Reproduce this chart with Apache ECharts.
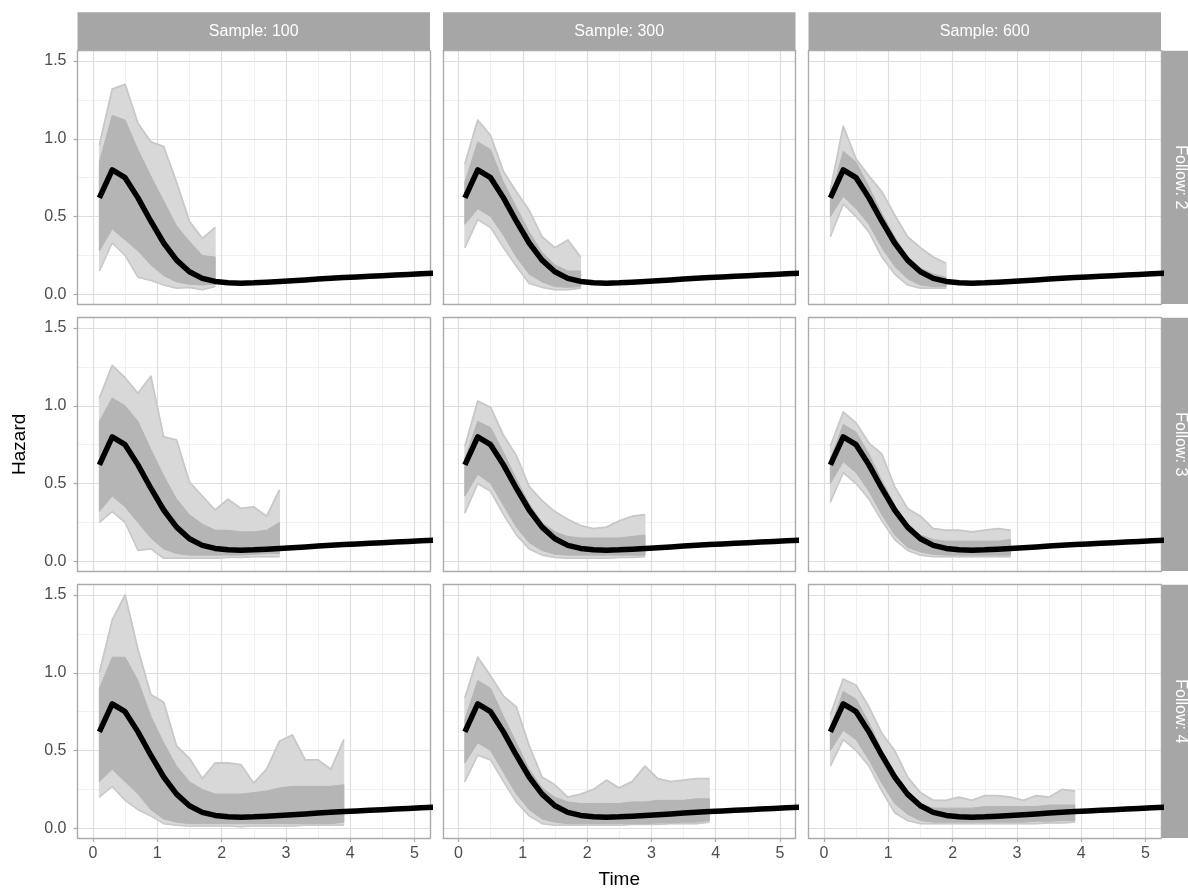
<!DOCTYPE html>
<html><head><meta charset="utf-8">
<script src="https://cdn.jsdelivr.net/npm/echarts@6/dist/echarts.min.js"></script>
<style>html,body{margin:0;padding:0;background:#fff}#c{width:1188px;height:892px}</style>
</head><body><div id="c"></div>
<script>
// ---------- data ----------
const sampleLabels = ['Sample: 100', 'Sample: 300', 'Sample: 600'];
const followLabels = ['Follow: 2', 'Follow: 3', 'Follow: 4'];
const xTicks = [0, 1, 2, 3, 4, 5];
const xMinor = [0.5, 1.5, 2.5, 3.5, 4.5];
const yTicks = [0, 0.5, 1, 1.5];
const yMinor = [0.25, 0.75, 1.25];
const yTickLabels = ['0.0', '0.5', '1.0', '1.5'];

// estimation time points
const timePts = [0.1,0.3,0.5,0.7,0.9,1.1,1.3,1.5,1.7,1.9,2.1,2.3,2.5,2.7,2.9,3.1,3.3,3.5,3.7,3.9];

// true hazard (black curve)
const trueTime = [0.1,0.3,0.5,0.7,0.9,1.1,1.3,1.5,1.7,1.9,2.1,2.3,2.5,2.7,2.9,3.1,3.3,3.5,3.7,3.9,4.1,4.3,4.5,4.7,4.9,5.1,5.3];
const trueHazard = [0.62,0.80,0.75,0.62,0.47,0.33,0.22,0.145,0.103,0.083,0.074,0.072,0.074,0.078,0.083,0.088,0.093,0.098,0.103,0.108,0.112,0.116,0.120,0.124,0.128,0.132,0.136];

// estimated hazard envelopes per panel: max, dense-core upper, dense-core lower, min
const f2_n100_max    = [0.96,1.32,1.35,1.10,0.98,0.95,0.72,0.47,0.36,0.43];
const f2_n100_coreHi = [0.85,1.15,1.12,0.93,0.76,0.60,0.44,0.34,0.25,0.24];
const f2_n100_coreLo = [0.28,0.42,0.35,0.28,0.19,0.12,0.08,0.065,0.06,0.065];
const f2_n100_min    = [0.15,0.33,0.25,0.11,0.09,0.06,0.04,0.045,0.03,0.05];

const f2_n300_max    = [0.84,1.12,1.02,0.79,0.66,0.54,0.37,0.30,0.35,0.24];
const f2_n300_coreHi = [0.72,0.98,0.93,0.72,0.56,0.40,0.27,0.19,0.15,0.15];
const f2_n300_coreLo = [0.45,0.55,0.50,0.38,0.24,0.13,0.08,0.05,0.045,0.05];
const f2_n300_min    = [0.30,0.48,0.43,0.30,0.18,0.07,0.045,0.03,0.03,0.04];

const f2_n600_max    = [0.67,1.08,0.87,0.76,0.66,0.51,0.37,0.30,0.24,0.20];
const f2_n600_coreHi = [0.62,0.92,0.85,0.69,0.52,0.37,0.24,0.17,0.13,0.11];
const f2_n600_coreLo = [0.50,0.63,0.55,0.45,0.30,0.18,0.10,0.06,0.05,0.05];
const f2_n600_min    = [0.37,0.58,0.50,0.40,0.24,0.13,0.06,0.04,0.04,0.04];

const f3_n100_max    = [1.05,1.26,1.18,1.08,1.19,0.80,0.78,0.51,0.42,0.33,0.40,0.34,0.35,0.29,0.46];
const f3_n100_coreHi = [0.90,1.05,1.00,0.90,0.72,0.55,0.40,0.30,0.24,0.20,0.20,0.19,0.19,0.20,0.25];
const f3_n100_coreLo = [0.32,0.42,0.35,0.25,0.15,0.08,0.05,0.04,0.04,0.04,0.04,0.04,0.045,0.05,0.05];
const f3_n100_min    = [0.25,0.32,0.25,0.07,0.08,0.02,0.02,0.02,0.02,0.02,0.025,0.025,0.03,0.03,0.03];

const f3_n300_max    = [0.74,1.03,0.99,0.81,0.68,0.48,0.39,0.32,0.27,0.23,0.21,0.22,0.26,0.29,0.30];
const f3_n300_coreHi = [0.66,0.90,0.86,0.70,0.53,0.37,0.25,0.19,0.16,0.15,0.15,0.15,0.15,0.16,0.17];
const f3_n300_coreLo = [0.42,0.56,0.50,0.36,0.22,0.12,0.07,0.045,0.04,0.04,0.04,0.04,0.04,0.04,0.04];
const f3_n300_min    = [0.31,0.50,0.45,0.30,0.17,0.08,0.04,0.025,0.02,0.02,0.02,0.02,0.025,0.025,0.03];

const f3_n600_max    = [0.74,0.96,0.89,0.76,0.69,0.48,0.34,0.29,0.21,0.20,0.20,0.19,0.20,0.21,0.20];
const f3_n600_coreHi = [0.66,0.88,0.83,0.69,0.52,0.36,0.24,0.17,0.14,0.13,0.13,0.13,0.13,0.13,0.14];
const f3_n600_coreLo = [0.50,0.64,0.57,0.45,0.30,0.17,0.09,0.06,0.045,0.04,0.04,0.04,0.04,0.04,0.04];
const f3_n600_min    = [0.38,0.57,0.50,0.40,0.26,0.14,0.07,0.04,0.03,0.03,0.03,0.03,0.03,0.03,0.03];

const f4_n100_max    = [1.00,1.34,1.50,1.15,0.86,0.81,0.53,0.45,0.32,0.42,0.42,0.41,0.29,0.38,0.56,0.60,0.44,0.44,0.38,0.57];
const f4_n100_coreHi = [0.90,1.10,1.10,0.95,0.72,0.55,0.40,0.30,0.25,0.22,0.22,0.22,0.23,0.24,0.26,0.27,0.27,0.27,0.27,0.28];
const f4_n100_coreLo = [0.30,0.38,0.30,0.22,0.12,0.06,0.04,0.03,0.03,0.03,0.03,0.03,0.03,0.03,0.03,0.03,0.03,0.03,0.03,0.04];
const f4_n100_min    = [0.20,0.27,0.18,0.12,0.08,0.03,0.02,0.015,0.015,0.015,0.015,0.01,0.015,0.015,0.015,0.015,0.02,0.02,0.02,0.02];

const f4_n300_max    = [0.84,1.10,0.98,0.85,0.78,0.53,0.33,0.28,0.20,0.22,0.25,0.31,0.26,0.30,0.40,0.32,0.30,0.31,0.32,0.32];
const f4_n300_coreHi = [0.70,0.95,0.90,0.72,0.55,0.38,0.26,0.20,0.17,0.16,0.16,0.16,0.16,0.17,0.17,0.18,0.18,0.18,0.19,0.19];
const f4_n300_coreLo = [0.42,0.55,0.50,0.36,0.22,0.12,0.06,0.04,0.03,0.03,0.03,0.03,0.03,0.03,0.03,0.035,0.035,0.04,0.04,0.05];
const f4_n300_min    = [0.30,0.47,0.44,0.30,0.17,0.08,0.03,0.02,0.02,0.02,0.02,0.02,0.02,0.025,0.025,0.025,0.03,0.03,0.03,0.04];

const f4_n600_max    = [0.73,0.96,0.92,0.78,0.61,0.50,0.33,0.23,0.18,0.18,0.20,0.18,0.21,0.21,0.20,0.18,0.21,0.20,0.25,0.24];
const f4_n600_coreHi = [0.65,0.88,0.83,0.68,0.50,0.35,0.23,0.16,0.13,0.13,0.13,0.13,0.14,0.14,0.14,0.14,0.14,0.15,0.15,0.15];
const f4_n600_coreLo = [0.50,0.63,0.57,0.44,0.29,0.16,0.09,0.05,0.04,0.04,0.04,0.04,0.04,0.04,0.04,0.04,0.045,0.045,0.05,0.05];
const f4_n600_min    = [0.40,0.57,0.50,0.40,0.24,0.10,0.05,0.03,0.03,0.03,0.03,0.03,0.03,0.03,0.03,0.03,0.03,0.035,0.035,0.04];

// ---------- layout ----------
const FONT = '"Liberation Sans", Arial, Helvetica, sans-serif';
const X_MIN = -0.24, X_MAX = 5.24, Y_MIN = -0.062, Y_MAX = 1.566;
const colLeft = [77.5, 443, 808.5], rowTop = [50.7, 317.7, 584.7];
const PW = 352.5, PH = 253.3;
const STRIP = 38.5;

const panelData = [
  [[f2_n100_max,f2_n100_coreHi,f2_n100_coreLo,f2_n100_min],[f2_n300_max,f2_n300_coreHi,f2_n300_coreLo,f2_n300_min],[f2_n600_max,f2_n600_coreHi,f2_n600_coreLo,f2_n600_min]],
  [[f3_n100_max,f3_n100_coreHi,f3_n100_coreLo,f3_n100_min],[f3_n300_max,f3_n300_coreHi,f3_n300_coreLo,f3_n300_min],[f3_n600_max,f3_n600_coreHi,f3_n600_coreLo,f3_n600_min]],
  [[f4_n100_max,f4_n100_coreHi,f4_n100_coreLo,f4_n100_min],[f4_n300_max,f4_n300_coreHi,f4_n300_coreLo,f4_n300_min],[f4_n600_max,f4_n600_coreHi,f4_n600_coreLo,f4_n600_min]]
];

const grids = [], xAxes = [], yAxes = [], series = [], graphics = [];
const borderLine = {show: true, onZero: false, lineStyle: {color: '#ababab', width: 1.4}};
const tickStyle = {color: '#ababab', width: 1.2};
const majorGrid = {show: true, lineStyle: {color: '#dedede', width: 1.2}};
const minorGrid = {show: true, lineStyle: {color: '#ececec', width: 0.8}};

// filled band between two envelopes, positioned through the axis scales (api.coord)
function bandSeries(g, t, lower, upper, fill, z) {
  return {
    type: 'custom', xAxisIndex: 2 * g, yAxisIndex: 2 * g, silent: true, clip: true, z: z,
    data: t.map((x, i) => [x, lower[i], upper[i]]),
    encode: {x: 0, y: [1, 2]},
    renderItem: function (params, api) {
      if (params.dataIndex !== 0) return null;
      const pts = [];
      for (let i = 0; i < t.length; i++) pts.push(api.coord([t[i], upper[i]]));
      for (let i = t.length - 1; i >= 0; i--) pts.push(api.coord([t[i], lower[i]]));
      return {type: 'polygon', shape: {points: pts}, style: {fill: fill, stroke: fill, lineWidth: 1}};
    }
  };
}

for (let r = 0; r < 3; r++) {
  for (let c = 0; c < 3; c++) {
    const g = r * 3 + c;
    grids.push({left: colLeft[c], top: rowTop[r], width: PW, height: PH, show: false});
    xAxes.push({type: 'value', gridIndex: g, position: 'bottom', min: X_MIN, max: X_MAX,
      axisLine: borderLine,
      axisTick: {show: r === 2, customValues: xTicks, length: 4, lineStyle: tickStyle},
      axisLabel: {show: r === 2, customValues: xTicks, color: '#4d4d4d', fontSize: 16, fontFamily: FONT, margin: 8},
      splitLine: majorGrid});
    xAxes.push({type: 'value', gridIndex: g, position: 'top', min: X_MIN, max: X_MAX,
      axisLine: borderLine,
      axisTick: {show: false, customValues: xMinor},
      axisLabel: {show: false, customValues: xMinor},
      splitLine: minorGrid});
    yAxes.push({type: 'value', gridIndex: g, position: 'left', min: Y_MIN, max: Y_MAX,
      axisLine: borderLine,
      axisTick: {show: c === 0, customValues: yTicks, length: 4, lineStyle: tickStyle},
      axisLabel: {show: c === 0, customValues: yTicks, color: '#4d4d4d', fontSize: 16, fontFamily: FONT, margin: 11,
        formatter: v => yTickLabels[yTicks.indexOf(+v.toFixed(2))] ?? v.toFixed(1)},
      splitLine: majorGrid});
    yAxes.push({type: 'value', gridIndex: g, position: 'right', min: Y_MIN, max: Y_MAX,
      axisLine: borderLine,
      axisTick: {show: false, customValues: yMinor},
      axisLabel: {show: false, customValues: yMinor},
      splitLine: minorGrid});

    const [mx, hi, lo, mn] = panelData[r][c];
    const t = timePts.slice(0, mx.length);
    const base = {type: 'line', xAxisIndex: 2 * g, yAxisIndex: 2 * g, symbol: 'none', silent: true,
      clip: true, animation: false};
    series.push(bandSeries(g, t, mn, mx, '#d8d8d8', 2));
    series.push(Object.assign({}, base, {z: 3,
      data: t.map((x, i) => [x, mx[i]]),
      lineStyle: {color: '#c8c8c8', width: 1.8, join: 'round'}}));
    series.push(Object.assign({}, base, {z: 3,
      data: t.map((x, i) => [x, mn[i]]),
      lineStyle: {color: '#c8c8c8', width: 1.6, join: 'round'}}));
    series.push(bandSeries(g, t, lo, hi, '#b5b5b5', 4));
    series.push(Object.assign({}, base, {z: 6,
      data: trueTime.map((x, i) => [x, trueHazard[i]]),
      lineStyle: {color: '#000000', width: 5.5, join: 'round', cap: 'butt'}}));
  }
}

// strips
for (let c = 0; c < 3; c++) {
  graphics.push({type: 'rect', shape: {x: colLeft[c], y: rowTop[0] - STRIP, width: PW, height: STRIP},
    style: {fill: '#a6a6a6'}, silent: true});
  graphics.push({type: 'text', x: colLeft[c] + PW / 2, y: rowTop[0] - STRIP / 2,
    style: {text: sampleLabels[c], fill: '#ffffff', font: '16px ' + FONT, align: 'center', verticalAlign: 'middle'}, silent: true});
}
const stripX = colLeft[2] + PW + 0.5;
for (let r = 0; r < 3; r++) {
  graphics.push({type: 'rect', shape: {x: stripX, y: rowTop[r], width: STRIP, height: PH},
    style: {fill: '#a6a6a6'}, silent: true});
  graphics.push({type: 'text', x: stripX + STRIP / 2, y: rowTop[r] + PH / 2, rotation: -Math.PI / 2,
    style: {text: followLabels[r], fill: '#ffffff', font: '16px ' + FONT, align: 'center', verticalAlign: 'middle'}, silent: true});
}
// axis titles
graphics.push({type: 'text', x: 20, y: (rowTop[0] + rowTop[2] + PH) / 2, rotation: Math.PI / 2,
  style: {text: 'Hazard', fill: '#000000', font: '19px ' + FONT, align: 'center', verticalAlign: 'middle'}, silent: true});
graphics.push({type: 'text', x: (colLeft[0] + colLeft[2] + PW) / 2, y: 880,
  style: {text: 'Time', fill: '#000000', font: '19px ' + FONT, align: 'center', verticalAlign: 'middle'}, silent: true});

const chart = echarts.init(document.getElementById('c'), null, {renderer: 'canvas'});
chart.setOption({
  animation: false,
  backgroundColor: '#ffffff',
  textStyle: {fontFamily: FONT},
  grid: grids,
  xAxis: xAxes,
  yAxis: yAxes,
  series: series,
  graphic: graphics
});
</script>
</body></html>
